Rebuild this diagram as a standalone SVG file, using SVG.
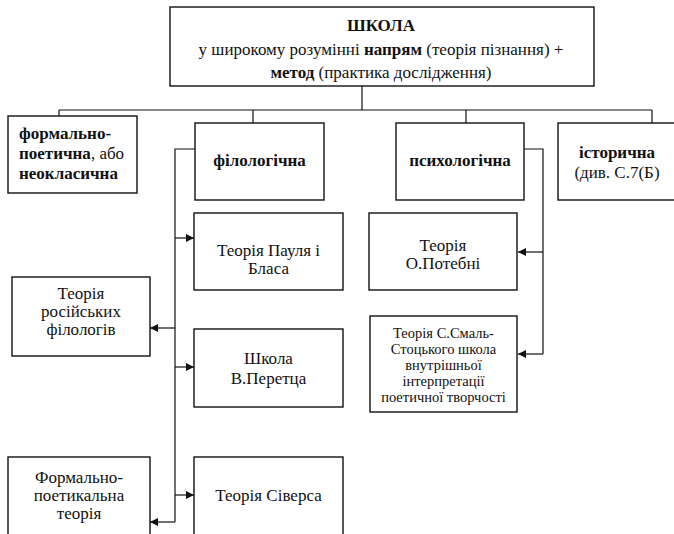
<svg xmlns="http://www.w3.org/2000/svg" width="674" height="534" viewBox="0 0 674 534">
<style>
.box{fill:#fff;stroke:#111;stroke-width:1.4}
.ln{fill:none;stroke:#111;stroke-width:1.2}
.t{font-family:"Liberation Serif","Times New Roman",serif;fill:#111;font-size:17px;text-anchor:middle}
.b{font-weight:bold}
.s{font-size:14.5px}
.l{text-anchor:start}
</style>
<defs>
<marker id="ah" markerUnits="userSpaceOnUse" markerWidth="9" markerHeight="8" viewBox="0 0 10 10" refX="10" refY="5" orient="auto">
<path d="M0,0 L10,5 L0,10 z" fill="#111"/>
</marker>
</defs>
<rect width="674" height="534" fill="#fff"/>
<g id="connectors">
<path class="ln" d="M362,86 V110 M59,110 H652 M59,110 V116 M253,110 V123 M466,110 V123 M652,110 V123"/>
<path class="ln" d="M195,149 H175 V522"/>
<path class="ln" d="M175,238 H194" marker-end="url(#ah)"/>
<path class="ln" d="M175,328 H150" marker-end="url(#ah)"/>
<path class="ln" d="M175,367 H194" marker-end="url(#ah)"/>
<path class="ln" d="M175,495 H194" marker-end="url(#ah)"/>
<path class="ln" d="M175,522 H150" marker-end="url(#ah)"/>
<path class="ln" d="M524,149 H543 V354"/>
<path class="ln" d="M543,252 H518" marker-end="url(#ah)"/>
<path class="ln" d="M543,354 H518" marker-end="url(#ah)"/>
</g>
<g id="school">
<rect class="box" x="170" y="7" width="424" height="79"/>
<text class="t b" x="381" y="31">ШКОЛА</text>
<text class="t" x="381" y="55" font-size="16">у широкому розумінні <tspan class="b">напрям</tspan> (теорія пізнання) +</text>
<text class="t" x="381" y="78" font-size="16"><tspan class="b">метод</tspan> (практика дослідження)</text>
</g>
<g id="formal">
<rect class="box" x="8" y="116" width="129" height="77"/>
<text class="t l b" x="19" y="139">формально-</text>
<text class="t l" x="19" y="159"><tspan class="b">поетична</tspan>, або</text>
<text class="t l b" x="19" y="179">неокласична</text>
</g>
<g id="philological">
<rect class="box" x="195" y="123" width="129" height="77"/>
<text class="t b" x="259.5" y="166">філологічна</text>
</g>
<g id="psychological">
<rect class="box" x="396" y="123" width="128" height="77"/>
<text class="t b" x="460" y="166">психологічна</text>
</g>
<g id="historical">
<rect class="box" x="558" y="123" width="118" height="77"/>
<text class="t b" x="617" y="158">історична</text>
<text class="t" x="617" y="178">(див. С.7(Б)</text>
</g>
<g id="paul">
<rect class="box" x="194" y="213" width="149" height="77"/>
<text class="t" x="268.5" y="256">Теорія Пауля і</text>
<text class="t" x="268.5" y="274">Бласа</text>
</g>
<g id="russian">
<rect class="box" x="12" y="277" width="138" height="79"/>
<text class="t" x="81" y="299">Теорія</text>
<text class="t" x="81" y="317">російських</text>
<text class="t" x="81" y="335">філологів</text>
</g>
<g id="peretz">
<rect class="box" x="194" y="329" width="149" height="78"/>
<text class="t" x="268.5" y="364">Школа</text>
<text class="t" x="268.5" y="384">В.Перетца</text>
</g>
<g id="formalpoet">
<rect class="box" x="8" y="457" width="142" height="80"/>
<text class="t" x="79" y="483">Формально-</text>
<text class="t" x="79" y="501">поетикальна</text>
<text class="t" x="79" y="519">теорія</text>
</g>
<g id="sievers">
<rect class="box" x="194" y="457" width="149" height="80"/>
<text class="t" x="268.5" y="501">Теорія Сіверса</text>
</g>
<g id="potebnia">
<rect class="box" x="369" y="213" width="148" height="77"/>
<text class="t" x="443" y="251">Теорія</text>
<text class="t" x="443" y="269">О.Потебні</text>
</g>
<g id="smal">
<rect class="box" x="370" y="316" width="147" height="96"/>
<text class="t s" x="443.5" y="338">Теорія С.Смаль-</text>
<text class="t s" x="443.5" y="354">Стоцького школа</text>
<text class="t s" x="443.5" y="370">внутрішньої</text>
<text class="t s" x="443.5" y="386">інтерпретації</text>
<text class="t s" x="443.5" y="402">поетичної творчості</text>
</g>
</svg>
